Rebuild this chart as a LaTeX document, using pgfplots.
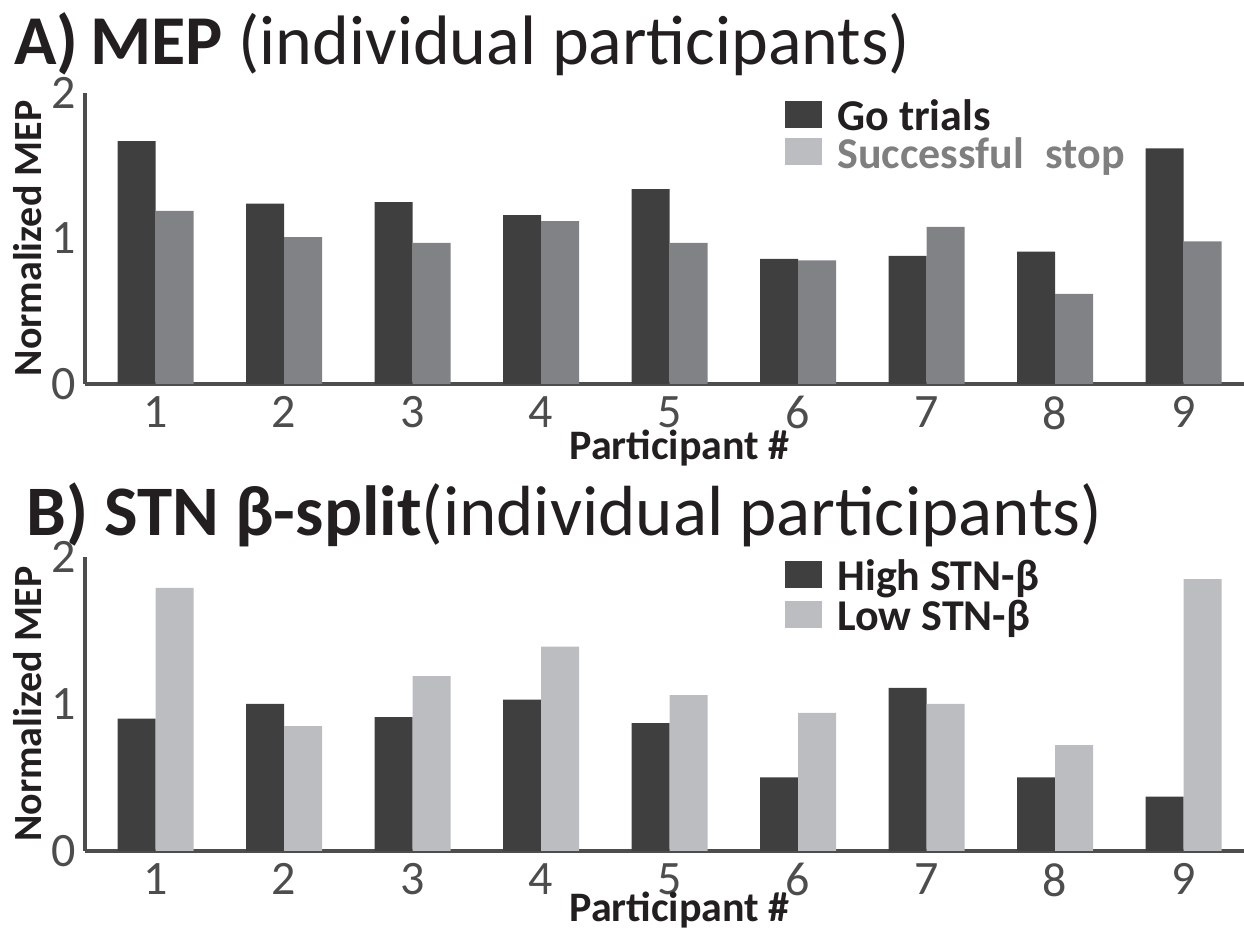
\documentclass[border=0pt]{standalone}
\usepackage{fontspec}
\setmainfont{Carlito}
\usepackage{pgfplots}
\usepackage{pgfplotstable}
\pgfplotsset{compat=1.18}
\definecolor{dk}{HTML}{3F3F40}
\definecolor{md}{HTML}{818285}
\definecolor{lt}{HTML}{BCBDC0}
\definecolor{axc}{HTML}{4D4D4D}
\definecolor{txt}{HTML}{231F20}
\definecolor{stopc}{HTML}{7F7F80}

\pgfplotstableread{
p go stop
1 1.67 1.19
2 1.24 1.01
3 1.25 0.97
4 1.16 1.12
5 1.34 0.97
6 0.86 0.85
7 0.88 1.08
8 0.91 0.62
9 1.62 0.98
}\tabA
\pgfplotstableread{
p high low
1 0.90 1.79
2 1.00 0.85
3 0.91 1.19
4 1.03 1.39
5 0.87 1.06
6 0.50 0.94
7 1.11 1.00
8 0.50 0.72
9 0.37 1.85
}\tabB

\pgfplotsset{
  panel/.style={
    scale only axis, width=579.5pt,
    xmin=0.45, xmax=9.47, ymin=0, ymax=2,
    axis x line=bottom, axis y line=left,
    axis line style={line width=2pt, color=axc, -},
    xtick={1,...,9}, ytick={0,1,2}, major tick length=0pt,
    /pgf/number format/assume math mode=true,
    tick label style={font=\fontsize{24}{24}\selectfont, text=axc},
    xticklabel style={inner sep=0pt, anchor=north, yshift=-6pt},
    yticklabel style={inner sep=0pt, anchor=east, xshift=-4.5pt},
    xlabel={Participant \#}, ylabel={Normalized MEP},
    ylabel style={font=\bfseries\fontsize{20}{20}\selectfont, text=txt, at={(axis description cs:-0.0492,0.5)}, anchor=center},
    legend image code/.code={\fill (0pt,-4pt) rectangle (18.5pt,9.5pt); \path (26pt,-4pt);},
    legend cell align=left,
  },
  bars/.style={ybar, bar width=19pt, draw=none, forget plot},
}

\begin{document}
\begin{tikzpicture}
\path[use as bounding box] (0pt,0pt) rectangle (622pt,465pt);

\node[anchor=base west, inner sep=0pt, text=txt, font=\fontsize{35}{35}\selectfont] at (7pt,432.5pt) {\textbf{A)\,MEP} (individual participants)};
\node[anchor=base west, inner sep=0pt, text=txt, font=\fontsize{35.5}{35.5}\selectfont] at (13pt,197pt) {\textbf{B) STN β-split}(individual participants)};

\begin{axis}[panel, height=145.5pt, at={(42.5pt,273pt)}, anchor=south west,
  xlabel style={font=\bfseries\fontsize{21}{21}\selectfont, text=txt, at={(axis description cs:0.513,-0.22)}, anchor=center},
  legend style={at={(axis description cs:0.604,0.975)}, anchor=north west, draw=none, fill=none, inner sep=0pt,
    font=\bfseries\fontsize{22}{22}\selectfont, nodes={inner sep=0pt, text height=15pt, text depth=3.75pt}, row sep=0pt}]
\addlegendimage{fill=dk, draw=none}
\addlegendentry{\textcolor{txt}{Go trials}}
\addlegendimage{fill=lt, draw=none}
\addlegendentry{\textcolor{stopc}{Successful\hspace{0.5em}stop}}
\addplot[bars, bar shift=-9.5pt, fill=dk] table[x=p, y=go] {\tabA};
\addplot[bars, bar shift=9.5pt, fill=md] table[x=p, y=stop] {\tabA};
\end{axis}

\begin{axis}[panel, height=147pt, at={(42.5pt,39.5pt)}, anchor=south west,
  xlabel style={font=\bfseries\fontsize{21}{21}\selectfont, text=txt, at={(axis description cs:0.513,-0.2)}, anchor=center},
  legend style={at={(axis description cs:0.604,0.99)}, anchor=north west, draw=none, fill=none, inner sep=0pt,
    font=\bfseries\fontsize{22}{22}\selectfont, nodes={inner sep=0pt, text height=15pt, text depth=5pt}, row sep=0pt}]
\addlegendimage{fill=dk, draw=none}
\addlegendentry{\textcolor{txt}{High STN-β}}
\addlegendimage{fill=lt, draw=none}
\addlegendentry{\textcolor{txt}{Low STN-β}}
\addplot[bars, bar shift=-9.5pt, fill=dk] table[x=p, y=high] {\tabB};
\addplot[bars, bar shift=9.5pt, fill=lt] table[x=p, y=low] {\tabB};
\end{axis}
\end{tikzpicture}
\end{document}
